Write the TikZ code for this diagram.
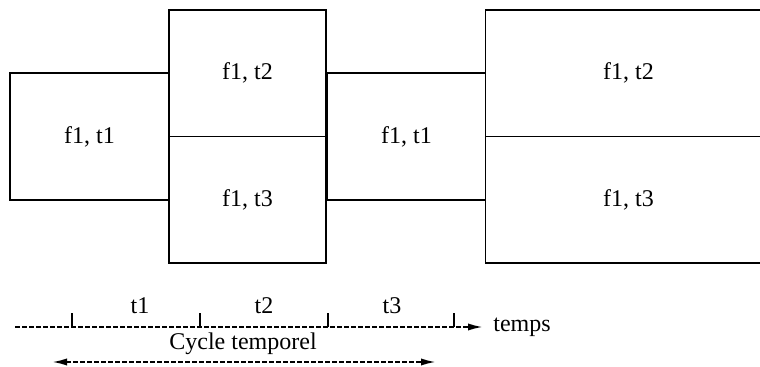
\documentclass[tikz,border=0pt]{standalone}
\usepackage{fontspec}
\setmainfont{Liberation Serif}
\usetikzlibrary{arrows.meta}
\begin{document}
\begin{tikzpicture}[x=0.5pt,y=-0.5pt,
  cell/.style={draw, line width=0.65pt, rectangle, inner sep=0pt, font=\fontsize{12}{14}\selectfont},
  lbl/.style={inner sep=0pt, font=\fontsize{12}{14}\selectfont},
  tipa/.tip={Latex[length=7.5pt,width=3.6pt]},
  axisline/.style={line width=1pt, dash pattern=on 2.5pt off 1pt, -tipa},
  cycleline/.style={line width=1pt, dash pattern=on 2.5pt off 1pt, tipa-tipa},
  tickline/.style={line width=0.65pt}]
\useasboundingbox (0,0) rectangle (760,367);
\clip (0,0) rectangle (760,367);
% boxes
\node[cell, minimum width=79.5pt, minimum height=63.5pt] (a) at (89.5,136.5) {f1, t1};
\node[cell, minimum width=78.5pt, minimum height=63.25pt] (b2) at (247.5,73.25) {f1, t2};
\node[cell, minimum width=78.5pt, minimum height=63.25pt] (b3) at (247.5,199.75) {f1, t3};
\node[cell, minimum width=79pt, minimum height=63.5pt] (c) at (406.5,136.5) {f1, t1};
\node[cell, minimum width=143pt, minimum height=63.25pt] (d2) at (628.5,73.25) {f1, t2};
\node[cell, minimum width=143pt, minimum height=63.25pt] (d3) at (628.5,199.75) {f1, t3};
% time axis
\coordinate (ax0) at (15,327);
\node[lbl, anchor=west] (temps) at (493,327) {temps};
\draw[axisline] (ax0) -- ([xshift=-5pt]temps.west);
\coordinate (k1) at (72,327);
\coordinate (k2) at (200,327);
\coordinate (k3) at (328,327);
\coordinate (k4) at (454,327);
\foreach \k in {k1,k2,k3,k4} \draw[tickline] (\k) -- ++(0,-14);
\node[lbl] (t1) at (140,306) {t1};
\node[lbl] (t2) at (264,306) {t2};
\node[lbl] (t3) at (392,306) {t3};
% cycle
\node[lbl] (cyc) at (243,344) {Cycle temporel};
\coordinate (cl) at (52,362);
\coordinate (cr) at (436,362);
\draw[cycleline] (cl) -- (cr);
\end{tikzpicture}
\end{document}
